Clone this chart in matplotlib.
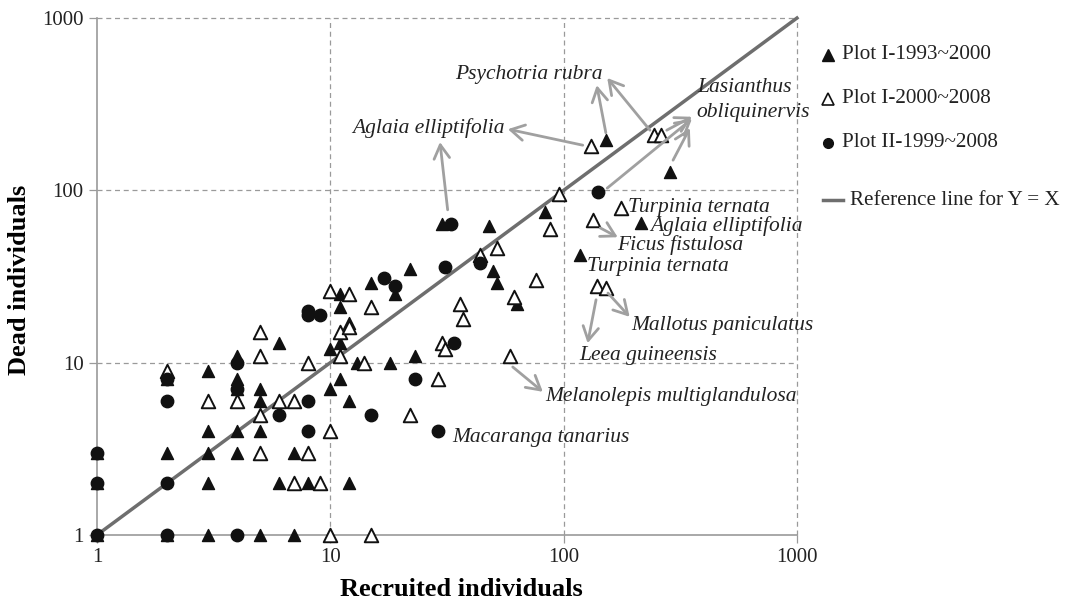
import numpy as np
import matplotlib
matplotlib.use("Agg")
import matplotlib.pyplot as plt
from matplotlib.lines import Line2D
from matplotlib.ticker import NullLocator

# --- data: (recruited, dead) per species ---
# Plot I-1993~2000 (filled triangles)
p1a_x = [1, 1, 1, 2, 2, 2, 3, 3, 3, 3, 3, 4, 4, 4, 4, 4, 5, 5, 5, 5, 6, 6, 7, 7, 8,
         10, 10, 11, 11, 11, 11, 12, 12, 12, 13, 15, 18, 19, 22, 23, 30, 48, 50, 52,
         63, 83, 118, 152, 215, 285]
p1a_y = [1, 2, 3, 1, 3, 8, 1, 2, 3, 4, 9, 3, 4, 7, 8, 11, 1, 4, 6, 7, 2, 13, 1, 3, 2,
         7, 12, 8, 13, 21, 25, 2, 6, 17, 10, 29, 10, 25, 35, 11, 64, 62, 34, 29,
         22, 75, 42, 195, 65, 127]

# Plot I-2000~2008 (open triangles)
p1b_x = [2, 3, 4, 5, 5, 5, 5, 6, 7, 7, 8, 8, 9, 10, 10, 10, 11, 11, 12, 12, 14, 15, 15,
         22, 29, 30, 31, 36, 37, 44, 52, 59, 61, 76, 87, 96, 131, 134, 139, 152, 177,
         245, 262]
p1b_y = [9, 6, 6, 3, 5, 11, 15, 6, 2, 6, 3, 10, 2, 1, 4, 26, 11, 15, 16, 25, 10, 1, 21,
         5, 8, 13, 12, 22, 18, 42, 46, 11, 24, 30, 60, 95, 180, 67, 28, 27, 79,
         210, 210]

# Plot II-1999~2008 (filled circles)
p2_x = [1, 1, 1, 2, 2, 2, 2, 4, 4, 4, 6, 8, 8, 8, 8, 9, 15, 17, 19, 23, 29, 31, 33, 34,
        44, 141]
p2_y = [1, 2, 3, 1, 2, 6, 8, 1, 7, 10, 5, 4, 6, 19, 20, 19, 5, 31, 28, 8, 4, 36, 64, 13,
        38, 98]

ticks = [1, 10, 100, 1000]
tick_labels = ["1", "10", "100", "1000"]

# species labels: text, position (axes fraction)
species_text = [
    ("Psychotria rubra", 0.511, 0.890),
    ("Lasianthus", 0.857, 0.865),
    ("obliquinervis", 0.857, 0.818),
    ("Aglaia elliptifolia", 0.364, 0.787),
    ("Turpinia ternata", 0.758, 0.634),
    ("Aglaia elliptifolia", 0.791, 0.598),
    ("Ficus fistulosa", 0.743, 0.561),
    ("Turpinia ternata", 0.700, 0.520),
    ("Mallotus paniculatus", 0.763, 0.406),
    ("Leea guineensis", 0.689, 0.348),
    ("Melanolepis multiglandulosa", 0.640, 0.267),
    ("Macaranga tanarius", 0.507, 0.188),
]
# arrows: (start, end) in axes fraction
arrows = [
    ((0.501, 0.629), (0.490, 0.760)),
    ((0.694, 0.754), (0.587, 0.785)),
    ((0.727, 0.778), (0.714, 0.870)),
    ((0.790, 0.783), (0.729, 0.884)),
    ((0.814, 0.783), (0.850, 0.809)),
    ((0.729, 0.671), (0.850, 0.805)),
    ((0.823, 0.725), (0.847, 0.787)),
    ((0.719, 0.594), (0.744, 0.576)),
    ((0.730, 0.468), (0.761, 0.422)),
    ((0.713, 0.455), (0.701, 0.371)),
    ((0.594, 0.325), (0.637, 0.277)),
]

serif = "Liberation Serif"
plt.rcParams["font.family"] = serif

fig = plt.figure(figsize=(10.68, 6.03), dpi=100)
ax = fig.add_axes([0.0908, 0.1128, 0.6554, 0.8573])
ax.set_xscale("log")
ax.set_yscale("log")
ax.set_xlim(1, 1000)
ax.set_ylim(1, 1000)

# grid
for v in ticks[1:]:
    ax.axvline(v, color="#9a9a9a", lw=0.9, ls=(0, (4, 3)), zorder=0, clip_on=False)
    ax.axhline(v, color="#9a9a9a", lw=0.9, ls=(0, (4, 3)), zorder=0, clip_on=False)

for s in ["top", "right"]:
    ax.spines[s].set_visible(False)
for s in ["left", "bottom"]:
    ax.spines[s].set_color("#9a9a9a")
    ax.spines[s].set_linewidth(1.2)

ax.set_xticks(ticks)
ax.set_xticklabels(tick_labels)
ax.set_yticks(ticks)
ax.set_yticklabels(tick_labels)
ax.xaxis.set_minor_locator(NullLocator())
ax.yaxis.set_minor_locator(NullLocator())
ax.tick_params(length=6, width=0.9, color="#9a9a9a", labelsize=15, labelcolor="#222222")

# reference line
ax.plot([1, 1000], [1, 1000], color="#6e6e6e", lw=2.5, zorder=2, clip_on=False)

ax.scatter(p1a_x, p1a_y, marker="^", s=75, color="#111111", zorder=3, clip_on=False)
ax.scatter(p1b_x, p1b_y, marker="^", s=95, facecolor="white", edgecolor="#111111",
           linewidth=1.4, zorder=4, clip_on=False)
ax.scatter(p2_x, p2_y, marker="o", s=80, color="#111111", zorder=5, clip_on=False)

for (x0, y0), (x1, y1) in arrows:
    ax.annotate("", xy=(x1, y1), xytext=(x0, y0), xycoords="axes fraction",
                textcoords="axes fraction",
                arrowprops=dict(arrowstyle="->,head_length=0.7,head_width=0.4",
                                color="#a0a0a0", lw=2, mutation_scale=14,
                                shrinkA=0, shrinkB=0), zorder=6)

for txt, x, y in species_text:
    ax.text(x, y, txt, transform=ax.transAxes, ha="left", va="center",
            fontsize=15.5, style="italic", color="#222222", zorder=7)

ax.set_xlabel("Recruited individuals", fontsize=19, fontweight="bold", va="center")
ax.set_ylabel("Dead individuals", fontsize=19, fontweight="bold", va="center")
ax.xaxis.set_label_coords(0.521, -0.106)
ax.yaxis.set_label_coords(-0.11, 0.493)

# legend, drawn by hand
leg = [
    (dict(marker="^", color="#111111", markersize=8, ls="none"), "Plot I-1993~2000", 0.909),
    (dict(marker="^", markerfacecolor="white", markeredgecolor="#111111",
          markeredgewidth=1.2, markersize=9, ls="none"), "Plot I-2000~2008", 0.836),
    (dict(marker="o", color="#111111", markersize=7, ls="none"), "Plot II-1999~2008", 0.763),
]
for style, label, y in leg:
    fig.add_artist(Line2D([0.775], [y], transform=fig.transFigure, **style))
    fig.text(0.788, y, label, fontsize=15.2, va="center", color="#222222")
fig.add_artist(Line2D([0.771, 0.789], [0.668, 0.668], transform=fig.transFigure,
                      color="#6e6e6e", lw=2.5))
fig.text(0.796, 0.668, "Reference line for Y = X", fontsize=15.2, va="center",
         color="#222222")

fig.savefig("out.png", dpi=100)
